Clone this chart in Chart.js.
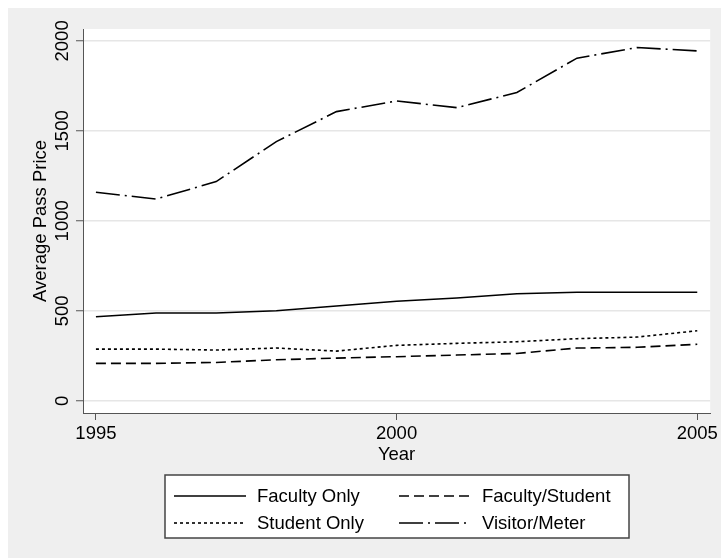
<!DOCTYPE html>
<html>
<head>
<meta charset="utf-8">
<script src="https://cdn.jsdelivr.net/npm/chart.js@4.4.1/dist/chart.umd.min.js"></script>
<style>
  html, body { margin: 0; padding: 0; background: #fff; }
  canvas { display: block; }
</style>
</head>
<body>
<canvas id="passChart" width="721" height="558"></canvas>
<script>
// --- Data ---
const years = [1995, 1996, 1997, 1998, 1999, 2000, 2001, 2002, 2003, 2004, 2005];
const facultyOnly = [467, 488, 488, 500, 527, 553, 571, 595, 603, 603, 603];
const facultyStudent = [208, 208, 213, 228, 237, 245, 254, 263, 293, 297, 314];
const studentOnly = [287, 287, 282, 293, 276, 308, 319, 328, 345, 354, 389];
const visitorMeter = [1159, 1121, 1218, 1440, 1607, 1666, 1629, 1713, 1904, 1963, 1944];
const xTicks = [1995, 2000, 2005];
const yTicks = [0, 500, 1000, 1500, 2000];

const FONT = '"Liberation Sans", Arial, sans-serif';
const AXIS = '#555';

function points(values) {
  return years.map((y, i) => ({ x: y, y: values[i] }));
}

function series(label, values, dash) {
  return {
    label: label,
    data: points(values),
    borderColor: '#000',
    borderWidth: 1.6,
    borderDash: dash,
    pointRadius: 0,
    tension: 0,
    fill: false
  };
}

// gray page with white plot region
const backdrop = {
  id: 'backdrop',
  beforeDraw(chart) {
    const { ctx, chartArea, width, height } = chart;
    ctx.save();
    ctx.fillStyle = '#fff';
    ctx.fillRect(0, 0, width, height);
    ctx.fillStyle = '#efefef';
    ctx.fillRect(8, 8, width - 8, height - 8);
    ctx.fillStyle = '#fff';
    ctx.fillRect(chartArea.left, chartArea.top, chartArea.right - chartArea.left, chartArea.bottom - chartArea.top);
    ctx.restore();
  }
};

// boxed two-column legend under the axis title
const boxLegend = {
  id: 'boxLegend',
  afterDraw(chart) {
    const { ctx, chartArea } = chart;
    const w = 464, h = 63, top = 475;
    const left = Math.round((chartArea.left + chartArea.right) / 2 - w / 2);
    ctx.save();
    ctx.fillStyle = '#fff';
    ctx.fillRect(left, top, w, h);
    ctx.strokeStyle = '#444';
    ctx.lineWidth = 1.5;
    ctx.strokeRect(left, top, w, h);
    ctx.font = '18.5px ' + FONT;
    ctx.textBaseline = 'middle';
    chart.data.datasets.forEach((ds, i) => {
      const x = left + 9 + (i % 2) * 225;
      const y = top + 21 + Math.floor(i / 2) * 27;
      ctx.setLineDash(ds.borderDash || []);
      ctx.lineWidth = ds.borderWidth;
      ctx.strokeStyle = ds.borderColor;
      ctx.beginPath();
      ctx.moveTo(x, y);
      ctx.lineTo(x + 72, y);
      ctx.stroke();
      ctx.setLineDash([]);
      ctx.fillStyle = '#000';
      ctx.fillText(ds.label, x + 83, y + 1);
    });
    ctx.restore();
  }
};

Chart.defaults.font.family = FONT;
Chart.defaults.font.size = 18.5;
Chart.defaults.color = '#000';

new Chart(document.getElementById('passChart'), {
  type: 'line',
  data: {
    datasets: [
      series('Faculty Only', facultyOnly, []),
      series('Faculty/Student', facultyStudent, [10, 5]),
      series('Student Only', studentOnly, [3, 3]),
      series('Visitor/Meter', visitorMeter, [24, 5, 2, 5])
    ]
  },
  options: {
    responsive: false,
    animation: false,
    devicePixelRatio: 1,
    layout: { padding: { left: 8, right: 8, top: 29, bottom: 90 } },
    plugins: {
      legend: { display: false },
      tooltip: { enabled: false }
    },
    scales: {
      x: {
        type: 'linear',
        min: 1994.785,
        max: 2005.215,
        afterBuildTicks: s => { s.ticks = xTicks.map(v => ({ value: v })); },
        afterFit: s => { s.height = 55; },
        ticks: { autoSkip: false, maxRotation: 0, padding: 3, callback: v => String(v) },
        grid: { drawOnChartArea: false, tickLength: 7, tickColor: AXIS, tickWidth: 1 },
        border: { color: AXIS, width: 1 },
        title: { display: true, text: 'Year', font: { size: 18.5, lineHeight: 1 }, padding: { top: 0, bottom: 4 } }
      },
      y: {
        type: 'linear',
        min: -68,
        max: 2066,
        afterBuildTicks: s => { s.ticks = yTicks.map(v => ({ value: v })); },
        afterFit: s => { s.width = 75; },
        ticks: { autoSkip: false, minRotation: 90, maxRotation: 90, crossAlign: 'center', padding: -7, callback: v => String(v) },
        grid: { color: '#e6e6e6', lineWidth: 1.5, tickLength: 7, tickColor: AXIS, tickWidth: 1 },
        border: { color: AXIS, width: 1 },
        title: { display: true, text: 'Average Pass Price', font: { size: 18.5, lineHeight: 1 }, padding: { top: 24, bottom: 0 } }
      }
    }
  },
  plugins: [backdrop, boxLegend]
});
</script>
</body>
</html>
